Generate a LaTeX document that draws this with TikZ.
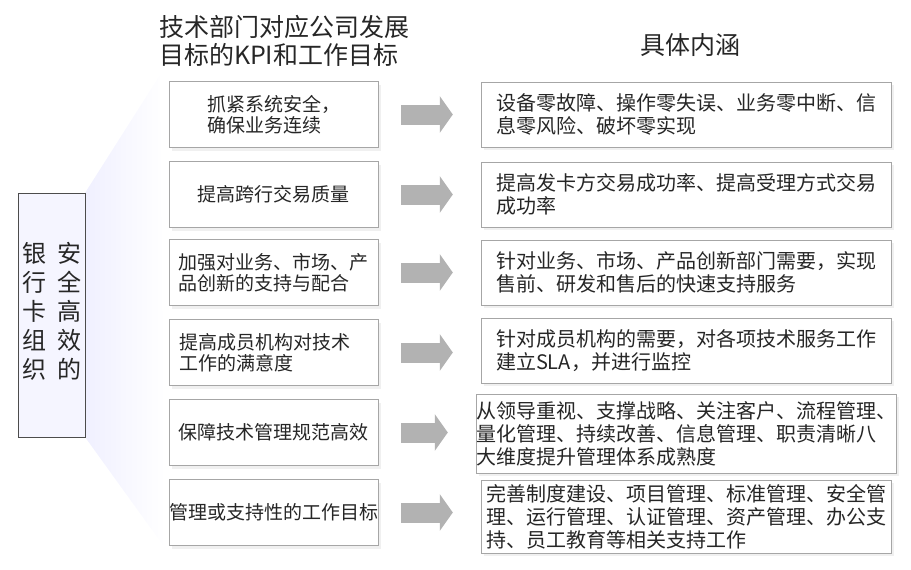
\documentclass[tikz,border=0pt]{standalone}
\usepackage{fontspec}
\setmainfont{Noto Sans CJK SC}
\usetikzlibrary{arrows.meta,shadows}

\begin{document}
\begin{tikzpicture}[x=1pt,y=-1pt,
  goal/.style={draw=black!35, fill=white, text=black!85, inner sep=0pt,
    minimum width=209pt, minimum height=66pt, align=left,
    font=\fontsize{19}{21}\selectfont,
    drop shadow={shadow xshift=3pt, shadow yshift=-3pt, opacity=0.12}},
  detail/.style={goal, minimum width=410pt, minimum height=65pt,
    font=\fontsize{20}{23}\selectfont},
  bigarrow/.style={draw=black!30, line width=20pt,
    -{Triangle[length=13pt,width=36pt]}, shorten <=23pt, shorten >=28pt}]
 \useasboundingbox (0,0) rectangle (911,570);

 % fan
 \shade[left color=blue!6, right color=white] (85,193) -- (160,75) -- (165,548) -- (85,437) -- cycle;

 % heads
 \node[font=\fontsize{25}{28}\selectfont, align=left, inner sep=0pt, text=black!85] (kpi) at (284,41) {技术部门对应公司发展\\目标的KPI和工作目标};
 \node[font=\fontsize{25}{28}\selectfont, inner sep=0pt, text=black!85] (meaning) at (690,45) {具体内涵};

 % left
 \node[draw=black!70, fill=blue!4, minimum width=67pt, minimum height=244pt, inner sep=0pt] (org) at (51.5,315) {};
 \node[font=\fontsize{24}{29}\selectfont, align=center, inner sep=0pt, text=black!85] (orgA) at (35,311) {银\\行\\卡\\组\\织};
 \node[font=\fontsize{24}{29}\selectfont, align=center, inner sep=0pt, text=black!85] (orgB) at (69,311) {安\\全\\高\\效\\的};

 % KPI
 \node[goal] (b1) at (273.5,114.5) {抓紧系统安全，\\确保业务连续};
 \node[goal] (b2) at (273.5,194.5) {提高跨行交易质量};
 \node[goal] (b3) at (273.5,272.5) {加强对业务、市场、产\\品创新的支持与配合};
 \node[goal, text width=189pt] (b4) at (273.5,352.5) {提高成员机构对技术\\工作的满意度};
 \node[goal] (b5) at (273.5,432.5) {保障技术管理规范高效};
 \node[goal] (b6) at (273.5,512.5) {管理或支持性的工作目标};

 % content
 \node[detail] (r1) at (686,114.5) {设备零故障、操作零失误、业务零中断、信\\息零风险、破坏零实现};
 \node[detail] (r2) at (686,194.5) {提高发卡方交易成功率、提高受理方式交易\\成功率};
 \node[detail] (r3) at (686,272.5) {针对业务、市场、产品创新部门需要，实现\\售前、研发和售后的快速支持服务};
 \node[detail] (r4) at (686,350.5) {针对成员机构的需要，对各项技术服务工作\\建立SLA，并进行监控};
 \node[detail, minimum height=79pt] (r5) at (686,433.5) {从领导重视、支撑战略、关注客户、流程管理、\\量化管理、持续改善、信息管理、职责清晰八\\大维度提升管理体系成熟度};
 \node[detail, minimum height=73pt] (r6) at (686,516.5) {完善制度建设、项目管理、标准管理、安全管\\理、运行管理、认证管理、资产管理、办公支\\持、员工教育等相关支持工作};

 % arrows
 \draw[bigarrow] (b1.east) -- (b1.east -| r1.west);
 \draw[bigarrow] (b2.east) -- (b2.east -| r2.west);
 \draw[bigarrow] (b3.east) -- (b3.east -| r3.west);
 \draw[bigarrow] (b4.east) -- (b4.east -| r4.west);
 \draw[bigarrow] (b5.east) -- (b5.east -| r5.west);
 \draw[bigarrow] (b6.east) -- (b6.east -| r6.west);
\end{tikzpicture}
\end{document}
